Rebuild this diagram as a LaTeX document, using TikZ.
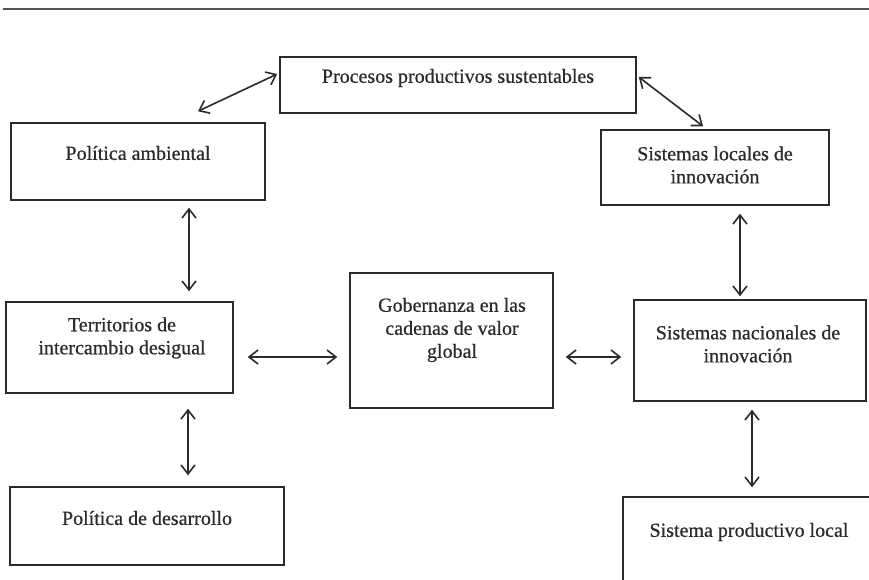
\documentclass[tikz,border=0pt]{standalone}
\usepackage{fontspec}
\setmainfont{Liberation Serif}
\newfontfamily\heavyfont[BoldFont=Liberation Serif,BoldFeatures={FakeBold=0.6}]{Liberation Serif}
\usetikzlibrary{arrows.meta,fit}
\definecolor{ink}{HTML}{2B2B2B}
\definecolor{rule}{HTML}{555555}
\begin{document}
\begin{tikzpicture}[x=1pt,y=-1pt,
  box/.style={draw=ink, line width=1.5pt, rectangle, inner sep=0pt},
  lbl/.style={text=ink, font=\heavyfont\bfseries\fontsize{20}{23}\selectfont, align=center, inner sep=0pt},
  link/.style={draw=ink, line width=1.6pt, {Straight Barb[length=9pt,width=14pt]}-{Straight Barb[length=9pt,width=14pt]}}]
\clip (0,0) rectangle (869,580);
\fill[white] (0,0) rectangle (869,580);
\draw[line width=2pt, rule] (3,9) -- (869,9);
% boxes
\node[box, fit={(280,57) (636,113)}] (proc) {};
\node[box, fit={(11,123) (265,200)}] (pamb) {};
\node[box, fit={(601,130) (829,205)}] (sloc) {};
\node[box, fit={(6,302) (233,393)}] (terr) {};
\node[box, fit={(350,273) (553,408)}] (gob) {};
\node[box, fit={(634,300) (866,401)}] (snac) {};
\node[box, fit={(10,487) (284,565)}] (pdes) {};
\node[box, fit={(623,497) (880,600)}] (spl) {};
% texts
\node[lbl] (procT) at (458,78) {Procesos productivos sustentables};
\node[lbl] (pambT) at (138,153) {Política ambiental};
\node[lbl] (slocT) at (715,165) {Sistemas locales de\\innovación};
\node[lbl] (terrT) at (122,338) {Territorios de\\intercambio desigual};
\node[lbl] (gobT) at (452,330) {Gobernanza en las\\cadenas de valor\\global};
\node[lbl] (snacT) at (748,344) {Sistemas nacionales de\\innovación};
\node[lbl] (pdesT) at (147,518) {Política de desarrollo};
\node[lbl] (splT) at (749,532) {Sistema productivo local};
% connectors
\draw[link] ([xshift=-2pt,yshift=11pt]proc.west) -- ([xshift=60pt,yshift=11pt]pamb.north);
\draw[link] ([xshift=2pt,yshift=8pt]proc.east) -- ([xshift=-12pt,yshift=3pt]sloc.north);
\draw[link] ([xshift=51pt,yshift=-7pt]pamb.south) -- ([xshift=69.5pt,yshift=10pt]terr.north);
\draw[link] ([xshift=68.5pt,yshift=-15pt]terr.south) -- ([xshift=41pt,yshift=11pt]pdes.north);
\draw[link] ([xshift=14pt,yshift=-9.5pt]terr.east) -- ([xshift=-12pt,yshift=-16.5pt]gob.west);
\draw[link] ([xshift=12pt,yshift=-16.5pt]gob.east) -- ([xshift=-12pt,yshift=-6.5pt]snac.west);
\draw[link] ([xshift=25pt,yshift=-8pt]sloc.south) -- ([xshift=-10pt,yshift=3pt]snac.north);
\draw[link] ([xshift=2pt,yshift=-8pt]snac.south) -- ([xshift=0.5pt,yshift=9pt]spl.north);
\end{tikzpicture}
\end{document}
